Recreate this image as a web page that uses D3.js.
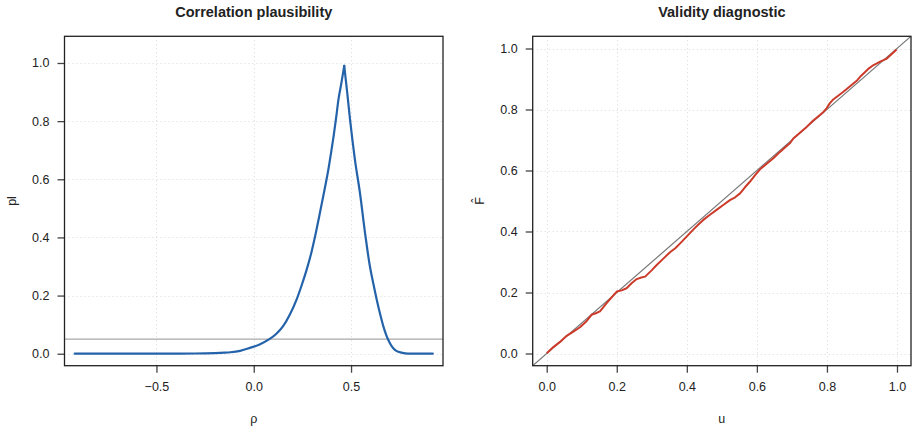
<!DOCTYPE html>
<html>
<head>
<meta charset="utf-8">
<script src="https://cdn.jsdelivr.net/npm/d3@7"></script>
<style>
  html, body { margin: 0; padding: 0; background: #fff; }
  svg { display: block; }
  text { font-family: "Liberation Sans", Arial, Helvetica, sans-serif; fill: #222; }
</style>
</head>
<body>
<svg id="chart" width="918" height="431"></svg>
<script>
// ---------- data ----------
const rhoValues = [-0.92, -0.8, -0.6, -0.4, -0.3, -0.25, -0.2, -0.15, -0.12, -0.07, -0.02, 0.03, 0.08, 0.115, 0.15, 0.185, 0.22, 0.245, 0.27, 0.295, 0.315, 0.335, 0.35, 0.367, 0.383, 0.397, 0.41, 0.423, 0.435, 0.45, 0.465, 0.48, 0.495, 0.52, 0.546, 0.572, 0.597, 0.615, 0.632, 0.65, 0.666, 0.68, 0.691, 0.705, 0.717, 0.735, 0.76, 0.78, 0.8, 0.85, 0.92];
const plValues  = [0, 0, 0, 0.0003, 0.0007, 0.0012, 0.002, 0.0035, 0.005, 0.01, 0.02, 0.032, 0.05, 0.068, 0.094, 0.134, 0.186, 0.233, 0.285, 0.345, 0.403, 0.468, 0.518, 0.575, 0.632, 0.69, 0.747, 0.81, 0.873, 0.93, 0.99, 0.9, 0.804, 0.667, 0.552, 0.415, 0.30, 0.24, 0.186, 0.135, 0.094, 0.066, 0.048, 0.03, 0.019, 0.009, 0.004, 0.0015, 0.0004, 0, 0];
const plThreshold = 0.05;
const rhoTicks = [-0.5, 0, 0.5];
const plTicks = [0, 0.2, 0.4, 0.6, 0.8, 1.0];

const uValues = [0, 0.019, 0.038, 0.057, 0.076, 0.095, 0.112, 0.128, 0.14, 0.152, 0.171, 0.186, 0.2, 0.214, 0.228, 0.243, 0.257, 0.27, 0.281, 0.298, 0.314, 0.333, 0.352, 0.367, 0.381, 0.4, 0.419, 0.433, 0.447, 0.466, 0.485, 0.504, 0.523, 0.538, 0.552, 0.566, 0.58, 0.595, 0.609, 0.628, 0.647, 0.666, 0.685, 0.695, 0.704, 0.723, 0.742, 0.761, 0.78, 0.79, 0.799, 0.808, 0.818, 0.832, 0.847, 0.866, 0.885, 0.897, 0.909, 0.92, 0.932, 0.952, 0.971, 0.985, 0.999];
const fhatValues = [0.001, 0.021, 0.038, 0.058, 0.072, 0.086, 0.104, 0.127, 0.132, 0.138, 0.165, 0.185, 0.203, 0.207, 0.214, 0.231, 0.244, 0.249, 0.252, 0.271, 0.29, 0.311, 0.332, 0.345, 0.361, 0.384, 0.407, 0.423, 0.438, 0.455, 0.471, 0.487, 0.503, 0.512, 0.525, 0.545, 0.563, 0.585, 0.604, 0.622, 0.64, 0.661, 0.68, 0.69, 0.705, 0.724, 0.743, 0.764, 0.782, 0.792, 0.804, 0.82, 0.833, 0.845, 0.858, 0.876, 0.894, 0.91, 0.923, 0.935, 0.945, 0.957, 0.967, 0.982, 0.997];
const uTicks = [0, 0.2, 0.4, 0.6, 0.8, 1.0];
const fTicks = [0, 0.2, 0.4, 0.6, 0.8, 1.0];

// ---------- layout ----------
const svg = d3.select("#chart");
const fmt = d => d === 0 ? "0.0" : d3.format(".1f")(d).replace("-", "\u2212");

function panel(opts) {
  const { x, y, title, xlab, ylab, xTicks, yTicks, id } = opts;
  const [x0, x1] = x.range();
  const [y0, y1] = y.range(); // y0 bottom, y1 top
  const g = svg.append("g");

  g.append("clipPath").attr("id", id).append("rect")
    .attr("x", x0).attr("y", y1).attr("width", x1 - x0).attr("height", y0 - y1);

  // grid
  const grid = g.append("g").attr("stroke", "#d8d8d8").attr("stroke-width", 1).attr("stroke-dasharray", "1,3");
  grid.selectAll(".gx").data(xTicks).join("line")
    .attr("x1", d => Math.round(x(d)) + 0.5).attr("x2", d => Math.round(x(d)) + 0.5)
    .attr("y1", y1).attr("y2", y0);
  grid.selectAll(".gy").data(yTicks).join("line")
    .attr("y1", d => Math.round(y(d)) + 0.5).attr("y2", d => Math.round(y(d)) + 0.5)
    .attr("x1", x0).attr("x2", x1);

  // axes
  const ax = g.append("g").attr("transform", `translate(0,${y0})`)
    .call(d3.axisBottom(x).tickValues(xTicks).tickSize(7).tickPadding(9).tickFormat(fmt));
  const ay = g.append("g").attr("transform", `translate(${x0},0)`)
    .call(d3.axisLeft(y).tickValues(yTicks).tickSize(7).tickPadding(8).tickFormat(fmt));
  [ax, ay].forEach(a => {
    a.select(".domain").remove();
    a.selectAll(".tick line").attr("stroke", "#444").attr("stroke-width", 1.3);
    a.selectAll(".tick text").attr("font-size", 12.5).attr("fill", "#222")
      .attr("font-family", "Liberation Sans, Arial, sans-serif");
  });

  // title
  g.append("text").attr("x", (x0 + x1) / 2).attr("y", 17)
    .attr("text-anchor", "middle").attr("font-weight", "bold").attr("font-size", 14.5)
    .text(title);
  g.append("text").attr("x", (x0 + x1) / 2).attr("y", 423)
    .attr("text-anchor", "middle").attr("font-size", 12.5).text(xlab);
  g.append("text")
    .attr("transform", `translate(${opts.ylabX},${(y0 + y1) / 2}) rotate(-90)`)
    .attr("text-anchor", "middle").attr("font-size", 12.5).text(ylab);

  return { g, clip: `url(#${id})`, box: () => g.append("rect")
    .attr("x", x0).attr("y", y1).attr("width", x1 - x0).attr("height", y0 - y1)
    .attr("fill", "none").attr("stroke", "#222").attr("stroke-width", 1.3) };
}

// ---------- left panel ----------
const xL = d3.scaleLinear().domain([-0.9725, 0.9725]).range([64.5, 443]);
const yL = d3.scaleLinear().domain([-0.0412, 1.0918]).range([365.7, 36.3]);
const pL = panel({ x: xL, y: yL, title: "Correlation plausibility", xlab: "\u03c1", ylab: "pl",
  xTicks: rhoTicks, yTicks: plTicks, id: "clipL", ylabX: 16 });

pL.g.append("line").attr("clip-path", pL.clip)
  .attr("x1", xL.range()[0]).attr("x2", xL.range()[1])
  .attr("y1", yL(plThreshold)).attr("y2", yL(plThreshold))
  .attr("stroke", "#a8a8a8").attr("stroke-width", 1.2);

const plData = rhoValues.map((r, i) => [r, plValues[i]]);
const peakIdx = d3.maxIndex(plValues);
const plLine = d3.line().x(d => xL(d[0])).y(d => yL(d[1])).curve(d3.curveMonotoneX);
// two monotone halves meeting at the sharp peak
[plData.slice(0, peakIdx + 1), plData.slice(peakIdx)].forEach(part => {
  pL.g.append("path").datum(part).attr("clip-path", pL.clip)
    .attr("fill", "none").attr("stroke", "#2463aa").attr("stroke-width", 2.2)
    .attr("stroke-linejoin", "round").attr("stroke-linecap", "round")
    .attr("d", plLine);
});
pL.box();

// ---------- right panel ----------
const xR = d3.scaleLinear().domain([-0.04, 1.04]).range([532.7, 911]);
const yR = d3.scaleLinear().domain([-0.04, 1.04]).range([365.7, 36.3]);
const pR = panel({ x: xR, y: yR, title: "Validity diagnostic", xlab: "u", ylab: "F\u0302",
  xTicks: uTicks, yTicks: fTicks, id: "clipR", ylabX: 483.5 });

pR.g.append("line").attr("clip-path", pR.clip)
  .attr("x1", xR(-0.04)).attr("y1", yR(-0.04)).attr("x2", xR(1.04)).attr("y2", yR(1.04))
  .attr("stroke", "#777").attr("stroke-width", 1.2);

const fData = uValues.map((u, i) => [u, fhatValues[i]]);
pR.g.append("path").datum(fData).attr("clip-path", pR.clip)
  .attr("fill", "none").attr("stroke", "#cc3a2a").attr("stroke-width", 2)
  .attr("stroke-linejoin", "round")
  .attr("d", d3.line().x(d => xR(d[0])).y(d => yR(d[1])));
pR.box();
</script>
</body>
</html>
